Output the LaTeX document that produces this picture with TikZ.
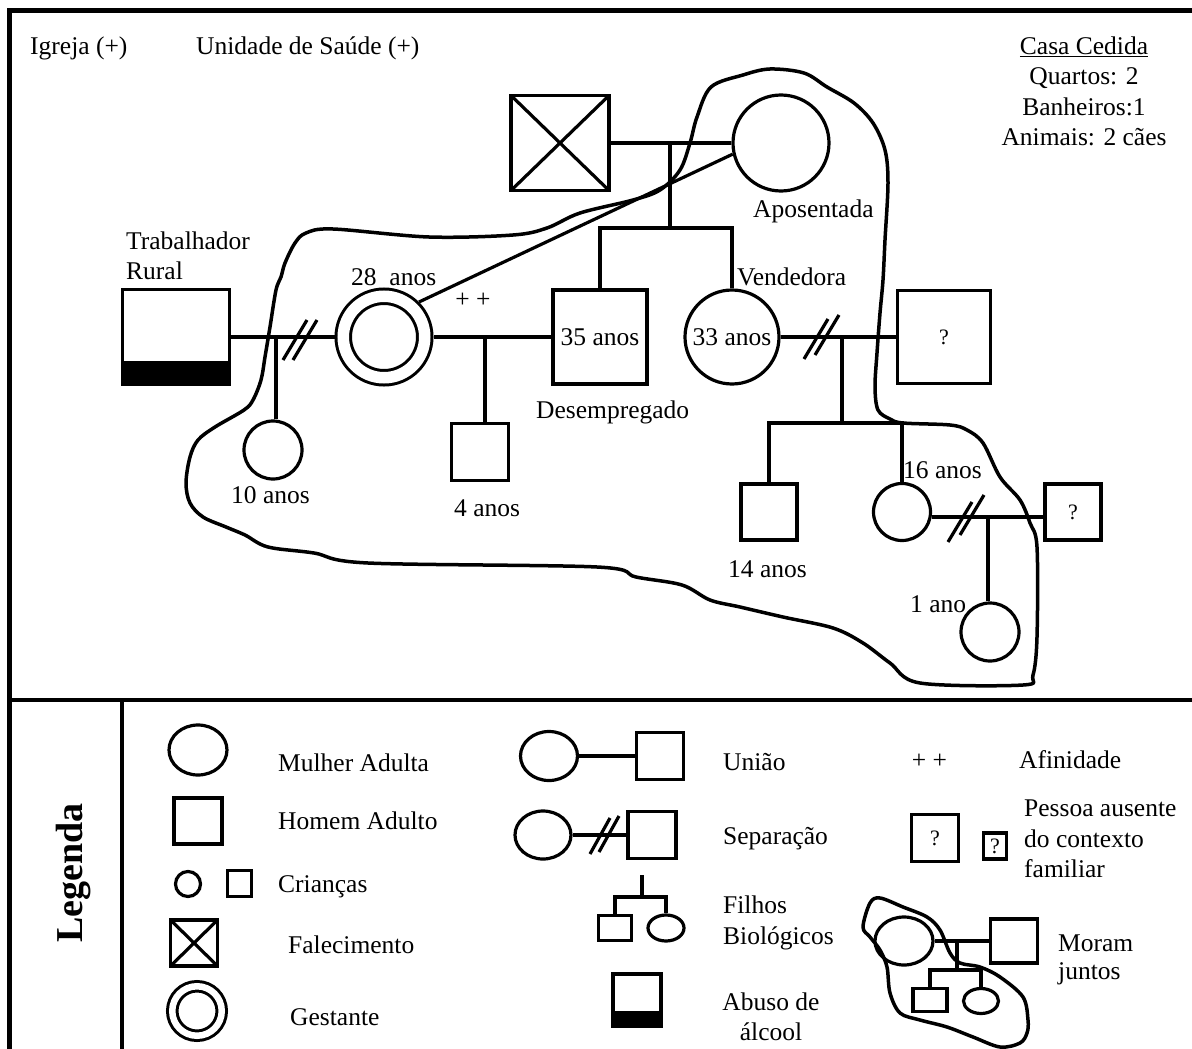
\documentclass[tikz,border=0pt]{standalone}
\usepackage{fontspec}
\setmainfont{Liberation Serif}
\usetikzlibrary{shapes.geometric}

\tikzset{
  mulher/.style={draw, circle, line width=3.2pt, inner sep=0pt},
  oval/.style={draw, ellipse, line width=3.2pt, inner sep=0pt},
  homem/.style={draw, rectangle, line width=3.2pt, inner sep=0pt},
  lig/.style={line width=3.2pt},
  obito/.style={homem, path picture={\draw[lig] (path picture bounding box.north west) -- (path picture bounding box.south east) (path picture bounding box.north east) -- (path picture bounding box.south west);}},
  alcool/.style={homem, path picture={\fill (path picture bounding box.south west) rectangle ([yshift=#1]path picture bounding box.south east);}},
  gestante/.style={draw, circle, line width=3pt, double=white, inner sep=0pt},
  texto/.style={inner sep=0pt, anchor=base west},
  interroga/.style={font=\fontsize{22}{24}\selectfont},
  morada/.style={line width=3.5pt, line join=round},
}

\begin{document}
\begin{tikzpicture}[x=1pt, y=-1pt, font=\fontsize{25.5}{30.5}\selectfont]
\useasboundingbox (0,0) rectangle (1192,1049);

% moldura
\draw[line width=4.5pt] (9.5,1060) -- (9.5,10.5) -- (1200,10.5);
\draw[line width=4.5pt] (9.5,700) -- (1200,700);
\draw[line width=4.5pt] (122,700) -- (122,1060);

% textos do topo
\node[texto] (igreja) at (30,55) {Igreja (+)};
\node[texto] (saude) at (196,55) {Unidade de Saúde (+)};
\node[align=center, inner sep=0pt] (casa) at (1084,91.3) {\underline{Casa Cedida}\\Quartos: 2\\Banheiros:1\\Animais: 2 cães};

% avos
\node[obito, minimum width=98pt, minimum height=95pt] (avo) at (560,143) {};
\node[mulher, minimum size=96pt] (avoa) at (781,143) {};
\node[texto] (tapos) at (753,217) {Aposentada};

% geracao do meio
\node[alcool=24pt, minimum width=107pt, minimum height=95pt] (trab) at (176,337) {};
\node[texto, align=left, anchor=west] (ttrab) at (126,256) {Trabalhador\\Rural};
\node[gestante, minimum size=81.5pt, double distance=11.5pt, outer sep=8.75pt] (ges) at (384,337) {};
\node[texto] (t28) at (351,285) {28\ \ anos};
\node[inner sep=0pt] (afin) at (473,300) {+ +};
\node[homem, minimum size=94pt] (pai35) at (600,337) {35 anos};
\node[texto] (tdesemp) at (536,418) {Desempregado};
\node[mulher, minimum size=94pt] (mae33) at (732,337) {33 anos};
\node[texto] (tvend) at (737,285) {Vendedora};
\node[homem, minimum size=93pt, interroga] (aus1) at (944,337) {?};

% filhos e neta
\node[mulher, minimum size=58pt] (f10) at (273,450) {};
\node[texto] (t10) at (231,503) {10 anos};
\node[homem, minimum size=57pt] (f4) at (480,452) {};
\node[texto] (t4) at (454,516) {4 anos};
\node[homem, minimum size=56pt] (f14) at (769,512) {};
\node[texto] (t14) at (728,577) {14 anos};
\node[mulher, minimum size=57pt] (f16) at (902,512) {};
\node[texto] (t16) at (903,478) {16 anos};
\node[homem, minimum size=56pt, interroga] (aus2) at (1073,512) {?};
\node[mulher, minimum size=58pt] (neta) at (990,632) {};
\node[texto] (t1) at (910,612) {1 ano};

% ligacoes
\draw[lig] (avo) -- (avoa);
\coordinate (uavos) at (670,143);
\coordinate (savos) at (670,228);
\draw[lig] (uavos) -- (savos);
\draw[lig] (pai35.north) |- (savos) -| (mae33.north);
\draw[lig] (trab) -- (ges);
\coordinate (u1) at (276,337);
\draw[lig] (u1) -- (u1 |- f10.north);
\draw[lig] (ges) -- (pai35);
\coordinate (u2) at (485,337);
\draw[lig] (u2) -- (u2 |- f4.north);
\draw[lig] (mae33) -- (aus1);
\coordinate (u3) at (842,337);
\coordinate (s3) at (842,423);
\draw[lig] (u3) -- (s3);
\draw[lig] (f14.north) |- (s3) -| (f16.north);
\draw[lig] ([yshift=-5pt]f16.east) -- ([yshift=-5pt]aus2.west);
\coordinate (u4) at (988,517);
\draw[lig] (u4) -- (u4 |- neta.north);
\draw[lig] (ges.45) -- (avoa.193);

% separacoes
\draw[lig] (295,340) ++(-12,20) -- ++(24,-40);
\draw[lig] (305,340) ++(-12,20) -- ++(24,-40);
\draw[lig] (816,339) ++(-12,20) -- ++(24,-40);
\draw[lig] (827,335) ++(-12,20) -- ++(24,-40);
\draw[lig] (960,522) ++(-12,20) -- ++(24,-40);
\draw[lig] (972,515) ++(-12,20) -- ++(24,-40);

% quem mora junto
\draw[morada] plot[smooth cycle, tension=0.55] coordinates {
  (770,69) (804,73) (827,87) (854,103) (873,123) (885,150) (888,183)
  (885,240) (883,280) (880,313) (877,353) (875,387) (878,410) (890,419)
  (903,423) (950,425) (967,430) (983,443) (1000,477) (1020,500) (1030,523)
  (1037,547) (1037,637) (1033,675) (1023,685) (920,683) (890,663) (863,643)
  (833,628) (783,617) (740,607) (710,600) (682,585) (636,577) (597,567)
  (368,563) (314,553) (268,547) (245,535) (226,527) (203,517) (190,503)
  (186,483) (190,457) (198,440) (215,427) (244,410) (253,400) (261,380)
  (265,357) (270,327) (276,290) (281,277) (285,263) (295,243) (306,233)
  (333,229) (429,237) (513,235) (547,228) (580,213) (633,200) (660,190)
  (680,170) (690,143) (697,117) (711,87) (743,75)};

% legenda
\node[rotate=90, anchor=base, inner sep=0pt, font=\bfseries\fontsize{38}{40}\selectfont] (leg) at (82,873) {Legenda};

\node[oval, minimum width=58pt, minimum height=50pt] (lmulher) at (198,750) {};
\node[texto] (tmulher) at (278,771) {Mulher Adulta};
\node[homem, minimum width=48pt, minimum height=46pt] (lhomem) at (198,821) {};
\node[texto] (thomem) at (278,829) {Homem Adulto};
\node[mulher, minimum size=25pt] (lmenina) at (188,884) {};
\node[homem, minimum width=24pt, minimum height=26pt] (lmenino) at (239.5,883.5) {};
\node[texto] (tcriancas) at (278,892) {Crianças};
\node[obito, minimum width=47pt, minimum height=46pt] (lobito) at (194,943) {};
\node[texto] (tobito) at (288,953) {Falecimento};
\node[gestante, minimum size=49.5pt, double distance=6.5pt, outer sep=6.25pt] (lgest) at (197,1011) {};
\node[texto] (tgest) at (290,1025) {Gestante};

\node[oval, minimum width=57pt, minimum height=49pt] (luM) at (549,756) {};
\node[homem, minimum size=47pt] (luH) at (660,756) {};
\draw[lig] (luM) -- (luH);
\node[texto] (tuniao) at (723,770) {União};
\node[oval, minimum width=56pt, minimum height=48pt] (lsM) at (543,835) {};
\node[homem, minimum width=48pt, minimum height=47pt] (lsH) at (652,835) {};
\draw[lig] (lsM) -- (lsH);
\draw[lig] (600,836) ++(-10,18) -- ++(20,-36);
\draw[lig] (609,834) ++(-10,18) -- ++(20,-36);
\node[texto] (tsep) at (723,844) {Separação};
\coordinate (ltopo) at (642,875);
\coordinate (lbarra) at (642,897);
\node[homem, minimum width=33pt, minimum height=25pt] (lfilho) at (615,928) {};
\node[oval, minimum width=36pt, minimum height=26pt] (lfilha) at (666,928) {};
\draw[lig] (ltopo) -- (lbarra);
\draw[lig] (lfilho.north) |- (lbarra) -| (lfilha.north);
\node[align=left, anchor=west, inner sep=0pt] (tfilhos) at (723,923) {Filhos\\Biológicos};
\node[alcool=15pt, minimum width=48pt, minimum height=52pt] (lalcool) at (637,1000) {};
\node[align=center, inner sep=0pt] (talcool) at (771,1017) {Abuso de\\álcool};

\node[inner sep=0pt] (lafin) at (929.5,761) {+ +};
\node[texto] (tafin) at (1019,768) {Afinidade};
\node[homem, minimum size=47pt, interroga] (lausA) at (935,838) {?};
\node[homem, minimum width=23pt, minimum height=26pt, interroga] (lausB) at (995,846) {?};
\node[align=left, anchor=west, inner sep=0pt] (tausente) at (1024,839) {Pessoa ausente\\do contexto\\familiar};

\node[oval, minimum width=58pt, minimum height=48pt] (lmM) at (904,941) {};
\node[homem, minimum width=47pt, minimum height=44pt] (lmH) at (1014,941) {};
\draw[lig] (lmM) -- (lmH);
\coordinate (lmu) at (957,941);
\coordinate (lmb) at (957,970);
\draw[lig] (lmu) -- (lmb);
\node[homem, minimum width=34pt, minimum height=23pt] (lmfilho) at (930,1000) {};
\node[oval, minimum width=35pt, minimum height=25pt] (lmfilha) at (981,1001) {};
\draw[lig] (lmfilho.north) |- (lmb) -| (lmfilha.north);
\draw[morada] plot[smooth cycle, tension=0.55] coordinates {
  (863,927) (870,903) (880,898) (903,907) (927,917) (940,930) (950,953)
  (960,963) (980,967) (1000,977) (1023,997) (1028,1020) (1027,1033)
  (1020,1043) (1000,1047) (973,1037) (947,1027) (920,1020) (900,1013)
  (890,993) (887,967) (880,950) (870,937)};
\node[align=left, anchor=west, inner sep=0pt, font=\fontsize{25.5}{28}\selectfont] (tmoram) at (1058,960) {Moram\\juntos};
\end{tikzpicture}
\end{document}
